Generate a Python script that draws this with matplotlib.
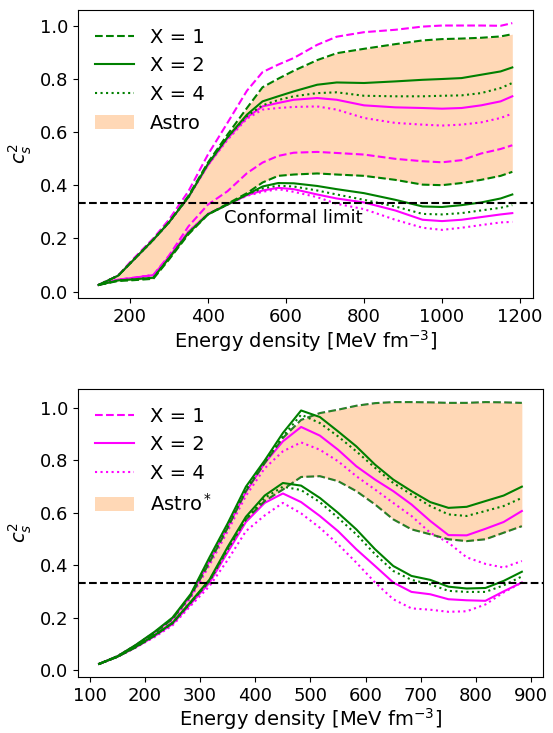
import matplotlib
matplotlib.use('Agg')
from matplotlib import pyplot as plt
from matplotlib.ticker import MultipleLocator

# upper panel: energy density grid and c_s^2 bands (hi / lo edges)
top_x = [120, 170, 200, 260, 300, 350, 400, 450, 500, 540, 580, 620, 680, 730,
         800, 880, 950, 1000, 1050, 1100, 1150, 1180]

top_g1_hi = [0.025, 0.06, 0.105, 0.195, 0.26, 0.36, 0.485, 0.59, 0.69, 0.768, 0.80, 0.83,
             0.87, 0.896, 0.9125, 0.93, 0.944, 0.949, 0.951, 0.954, 0.959, 0.9675]
top_g1_lo = [0.025, 0.04, 0.042, 0.048, 0.12, 0.215, 0.29, 0.33, 0.37, 0.41, 0.435, 0.44,
             0.444, 0.44, 0.435, 0.42, 0.402, 0.40, 0.408, 0.42, 0.435, 0.45]
top_g2_hi = [0.025, 0.06, 0.105, 0.195, 0.26, 0.355, 0.48, 0.58, 0.665, 0.715, 0.734, 0.7525,
             0.7775, 0.786, 0.784, 0.79, 0.796, 0.799, 0.8025, 0.815, 0.8275, 0.8425]
top_g2_lo = [0.025, 0.042, 0.045, 0.052, 0.125, 0.22, 0.29, 0.327, 0.365, 0.395, 0.408, 0.407,
             0.397, 0.385, 0.37, 0.345, 0.32, 0.318, 0.325, 0.335, 0.35, 0.365]
top_g4_hi = [0.025, 0.06, 0.105, 0.195, 0.26, 0.355, 0.48, 0.58, 0.66, 0.70, 0.72, 0.734,
             0.746, 0.749, 0.736, 0.734, 0.734, 0.736, 0.7375, 0.746, 0.765, 0.784]
top_g4_lo = [0.025, 0.042, 0.045, 0.052, 0.125, 0.22, 0.29, 0.327, 0.365, 0.388, 0.398, 0.395,
             0.38, 0.365, 0.345, 0.32, 0.292, 0.29, 0.295, 0.305, 0.315, 0.325]

top_m1_hi = [0.025, 0.06, 0.11, 0.2, 0.27, 0.377, 0.515, 0.634, 0.755, 0.825, 0.853, 0.878,
             0.9275, 0.958, 0.975, 0.984, 0.996, 1.0, 1.0, 1.0, 0.999, 1.009]
top_m1_lo = [0.025, 0.045, 0.05, 0.062, 0.135, 0.245, 0.327, 0.377, 0.445, 0.485, 0.51, 0.522,
             0.525, 0.521, 0.515, 0.499, 0.49, 0.486, 0.494, 0.519, 0.536, 0.55]
top_m2_hi = [0.025, 0.06, 0.105, 0.195, 0.26, 0.355, 0.475, 0.575, 0.655, 0.696, 0.709, 0.721,
             0.7275, 0.721, 0.70, 0.6925, 0.69, 0.6875, 0.69, 0.70, 0.715, 0.734]
top_m2_lo = [0.025, 0.045, 0.05, 0.062, 0.13, 0.225, 0.292, 0.327, 0.362, 0.38, 0.39, 0.385,
             0.365, 0.35, 0.335, 0.305, 0.27, 0.265, 0.27, 0.28, 0.29, 0.295]
top_m4_hi = [0.025, 0.06, 0.105, 0.195, 0.26, 0.355, 0.475, 0.57, 0.65, 0.684, 0.69, 0.694,
             0.696, 0.684, 0.6525, 0.634, 0.6275, 0.624, 0.6275, 0.636, 0.6525, 0.669]
top_m4_lo = [0.025, 0.045, 0.05, 0.062, 0.13, 0.225, 0.292, 0.327, 0.36, 0.375, 0.385, 0.375,
             0.355, 0.33, 0.31, 0.27, 0.24, 0.232, 0.24, 0.25, 0.26, 0.262]

# lower panel
bot_x = [117, 150, 183, 217, 250, 283, 317, 350, 383, 417, 450, 483, 517, 550, 583, 617,
         650, 683, 717, 750, 783, 817, 850, 883]

bot_1_hi = [0.023, 0.052, 0.092, 0.14, 0.195, 0.283, 0.41, 0.543, 0.683, 0.79, 0.886, 0.955,
            0.981, 0.994, 1.009, 1.019, 1.023, 1.023, 1.022, 1.02, 1.02, 1.023, 1.022, 1.02]
bot_1_lo = [0.023, 0.05, 0.086, 0.13, 0.18, 0.258, 0.34, 0.465, 0.575, 0.645, 0.689, 0.737,
            0.74, 0.721, 0.683, 0.632, 0.575, 0.537, 0.518, 0.499, 0.492, 0.499, 0.524, 0.549]
bot_g2_hi = [0.023, 0.052, 0.095, 0.145, 0.2, 0.29, 0.43, 0.56, 0.70, 0.80, 0.905, 0.991,
             0.966, 0.911, 0.854, 0.784, 0.727, 0.683, 0.641, 0.619, 0.623, 0.645, 0.666, 0.70]
bot_g2_lo = [0.023, 0.05, 0.088, 0.132, 0.18, 0.26, 0.345, 0.47, 0.585, 0.666, 0.714, 0.704,
             0.657, 0.60, 0.537, 0.461, 0.397, 0.359, 0.344, 0.318, 0.311, 0.313, 0.34, 0.375]
bot_g4_hi = [0.023, 0.052, 0.094, 0.143, 0.198, 0.287, 0.42, 0.55, 0.69, 0.795, 0.892, 0.975,
             0.943, 0.892, 0.835, 0.772, 0.714, 0.67, 0.626, 0.594, 0.588, 0.607, 0.626, 0.657]
bot_g4_lo = [0.023, 0.05, 0.087, 0.13, 0.178, 0.257, 0.34, 0.46, 0.575, 0.657, 0.70, 0.687,
             0.641, 0.581, 0.518, 0.442, 0.378, 0.344, 0.327, 0.302, 0.298, 0.298, 0.323, 0.357]
bot_m2_hi = [0.023, 0.052, 0.094, 0.143, 0.195, 0.283, 0.415, 0.545, 0.68, 0.79, 0.873, 0.928,
             0.895, 0.841, 0.778, 0.727, 0.683, 0.632, 0.569, 0.515, 0.514, 0.539, 0.565, 0.607]
bot_m2_lo = [0.023, 0.05, 0.086, 0.128, 0.175, 0.252, 0.333, 0.45, 0.565, 0.638, 0.674, 0.641,
             0.588, 0.53, 0.461, 0.397, 0.334, 0.298, 0.289, 0.27, 0.266, 0.264, 0.30, 0.334]
bot_m4_hi = [0.023, 0.052, 0.093, 0.14, 0.19, 0.275, 0.40, 0.53, 0.665, 0.77, 0.835, 0.869,
             0.841, 0.797, 0.74, 0.689, 0.638, 0.588, 0.524, 0.486, 0.43, 0.405, 0.391, 0.416]
bot_m4_lo = [0.023, 0.05, 0.085, 0.125, 0.17, 0.245, 0.32, 0.42, 0.53, 0.59, 0.638, 0.598,
             0.543, 0.48, 0.41, 0.334, 0.27, 0.235, 0.23, 0.222, 0.224, 0.25, 0.296, 0.334]

conformal = 1 / 3
astro_color = 'C1'

plt.rcParams['font.size'] = 13
plt.rcParams['axes.labelsize'] = 14
plt.rcParams['legend.fontsize'] = 14

fig = plt.figure(figsize=(5.53, 7.33), dpi=100)
ax1 = fig.add_axes([0.141, 0.5934, 0.8228, 0.3929])
ax2 = fig.add_axes([0.141, 0.0764, 0.8409, 0.3929])

# --- upper panel: green in legend, magenta extra
ax1.fill_between(top_x, top_g1_lo, top_g1_hi, color=astro_color, alpha=0.3,
                 linewidth=0, label='Astro')
ax1.plot(top_x, top_m1_hi, color='magenta', ls='--')
ax1.plot(top_x, top_m1_lo, color='magenta', ls='--')
ax1.plot(top_x, top_m2_hi, color='magenta', ls='-')
ax1.plot(top_x, top_m2_lo, color='magenta', ls='-')
ax1.plot(top_x, top_m4_hi, color='magenta', ls=':')
ax1.plot(top_x, top_m4_lo, color='magenta', ls=':')
ax1.plot(top_x, top_g1_hi, color='green', ls='--', label='X = 1')
ax1.plot(top_x, top_g1_lo, color='green', ls='--')
ax1.plot(top_x, top_g2_hi, color='green', ls='-', label='X = 2')
ax1.plot(top_x, top_g2_lo, color='green', ls='-')
ax1.plot(top_x, top_g4_hi, color='green', ls=':', label='X = 4')
ax1.plot(top_x, top_g4_lo, color='green', ls=':')
ax1.axhline(conformal, color='black', ls='--')
ax1.text(440, 0.275, 'Conformal limit', va='center')
ax1.set_xlabel('Energy density [MeV fm$^{-3}$]', labelpad=2)
ax1.set_ylabel('$c_s^2$')
h, l = ax1.get_legend_handles_labels()
ax1.legend(h[1:] + h[:1], l[1:] + l[:1], loc='upper left', frameon=False)

# --- lower panel: magenta in legend
ax2.fill_between(bot_x, bot_1_lo, bot_1_hi, color=astro_color, alpha=0.3,
                 linewidth=0, label='Astro$^*$')
ax2.plot(bot_x, bot_1_hi, color='magenta', ls='--', alpha=0.35, label='X = 1')
ax2.plot(bot_x, bot_1_lo, color='magenta', ls='--', alpha=0.35)
ax2.plot(bot_x, bot_m2_hi, color='magenta', ls='-', label='X = 2')
ax2.plot(bot_x, bot_m2_lo, color='magenta', ls='-')
ax2.plot(bot_x, bot_m4_hi, color='magenta', ls=':', label='X = 4')
ax2.plot(bot_x, bot_m4_lo, color='magenta', ls=':')
ax2.plot(bot_x, bot_1_hi, color='green', ls='--', alpha=0.85)
ax2.plot(bot_x, bot_1_lo, color='green', ls='--', alpha=0.85)
ax2.plot(bot_x, bot_g2_hi, color='green', ls='-')
ax2.plot(bot_x, bot_g2_lo, color='green', ls='-')
ax2.plot(bot_x, bot_g4_hi, color='green', ls=':')
ax2.plot(bot_x, bot_g4_lo, color='green', ls=':')
ax2.axhline(conformal, color='black', ls='--')
ax2.xaxis.set_major_locator(MultipleLocator(100))
ax2.set_xlabel('Energy density [MeV fm$^{-3}$]', labelpad=1)
ax2.set_ylabel('$c_s^2$')
h, l = ax2.get_legend_handles_labels()
ax2.legend(h[1:] + h[:1], l[1:] + l[:1], loc='upper left', frameon=False)
# legend line for X = 1 should be full magenta
ax2.get_legend().get_lines()[0].set_alpha(1)

fig.savefig('out.png', dpi=100)
